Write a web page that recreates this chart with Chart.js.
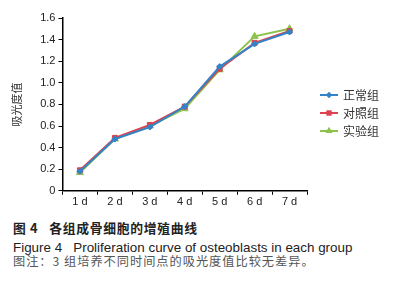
<!DOCTYPE html>
<html><head><meta charset="utf-8">
<script src="https://cdn.jsdelivr.net/npm/chart.js@4/dist/chart.umd.min.js"></script>
<style>
html,body{margin:0;padding:0;background:#fff;width:405px;height:300px;overflow:hidden;}
#wrap{position:absolute;left:0;top:0;width:405px;height:212px;}
.cap{position:absolute;left:13px;white-space:nowrap;color:#222;}
#c1{top:218px;font:bold 12.8px "Noto Sans CJK SC",sans-serif;letter-spacing:0.7px;}
#c2{top:240px;font:13.4px "Liberation Sans",Arial,sans-serif;}
#c3{top:252px;font:12.2px "Noto Sans CJK SC",sans-serif;color:#555;letter-spacing:1px;}
</style></head>
<body>
<div id="wrap"><canvas id="chart" width="405" height="212"></canvas></div>
<div class="cap" id="c1">图 4&nbsp;&nbsp;&nbsp;各组成骨细胞的增殖曲线</div>
<div class="cap" id="c2">Figure 4&nbsp;&nbsp;&nbsp;Proliferation curve of osteoblasts in each group</div>
<div class="cap" id="c3">图注：3 组培养不同时间点的吸光度值比较无差异。</div>
<script>
const categories = ["1 d","2 d","3 d","4 d","5 d","6 d","7 d"];
const seriesNames = ["正常组","对照组","实验组"];
const normalGroup = [0.18, 0.48, 0.59, 0.78, 1.15, 1.36, 1.47];
const controlGroup = [0.19, 0.49, 0.61, 0.78, 1.13, 1.37, 1.48];
const experimentGroup = [0.17, 0.48, 0.60, 0.76, 1.12, 1.43, 1.50];
const yTicks = [0, 0.2, 0.4, 0.6, 0.8, 1.0, 1.2, 1.4, 1.6];
const yTitle = "吸光度值";

const colors = ["#3383c8", "#dc434e", "#8dc34b"];
const styles = ["rectRot", "rect", "triangle"];
const radii = [3, 3.5, 4];

const legendPlugin = {
  id: 'sideLegend',
  afterDraw(chart) {
    const ctx = chart.ctx;
    const x0 = 320, y0 = 95, gap = 18;
    chart.data.datasets.forEach((ds, i) => {
      const y = y0 + i * gap;
      ctx.save();
      ctx.strokeStyle = ds.borderColor; ctx.lineWidth = 2;
      ctx.beginPath(); ctx.moveTo(x0, y); ctx.lineTo(x0 + 18, y); ctx.stroke();
      ctx.fillStyle = ds.borderColor;
      Chart.helpers.drawPoint(ctx, {pointStyle: ds.pointStyle, radius: ds.pointRadius, borderWidth: 0}, x0 + 9, y);
      ctx.fill();
      ctx.fillStyle = '#333';
      ctx.font = '12px "Noto Sans CJK SC", sans-serif';
      ctx.textBaseline = 'middle';
      ctx.fillText(ds.label, x0 + 23, y);
      ctx.restore();
    });
  }
};

const data = [normalGroup, controlGroup, experimentGroup];
new Chart(document.getElementById('chart'), {
  type: 'line',
  data: {
    labels: categories,
    datasets: seriesNames.map((n, i) => ({
      label: n, data: data[i],
      borderColor: colors[i], backgroundColor: colors[i],
      borderWidth: 2, pointStyle: styles[i], pointRadius: radii[i],
      pointBorderWidth: 1, tension: 0, fill: false
    }))
  },
  options: {
    responsive: false, animation: false, devicePixelRatio: 1,
    layout: {padding: {left: 0, right: 98, top: 18, bottom: 2}},
    plugins: {legend: {display: false}, tooltip: {enabled: false}},
    scales: {
      x: {
        offset: true,
        grid: {display: true, drawOnChartArea: false, drawTicks: true, tickLength: 4, offset: true, color: '#000'},
        border: {display: true, color: '#000', width: 1.5},
        ticks: {color: '#222', font: {family: '"Liberation Sans", Arial', size: 11}, padding: 1}
      },
      y: {
        min: 0, max: 1.6,
        afterBuildTicks: (s) => { s.ticks = yTicks.map(v => ({value: v})); },
        grid: {display: true, drawOnChartArea: false, drawTicks: true, tickLength: 4, color: '#000'},
        border: {display: true, color: '#000', width: 1.5},
        ticks: {color: '#222', font: {family: '"Liberation Sans", Arial', size: 11}, padding: 3,
          callback: (v) => v === 0 ? '0' : v.toFixed(1)},
        title: {display: true, text: yTitle, color: '#333', font: {family: '"Noto Sans CJK SC"', size: 11}, padding: {top: 10, bottom: 14}}
      }
    }
  },
  plugins: [legendPlugin]
});
</script>
</body></html>
